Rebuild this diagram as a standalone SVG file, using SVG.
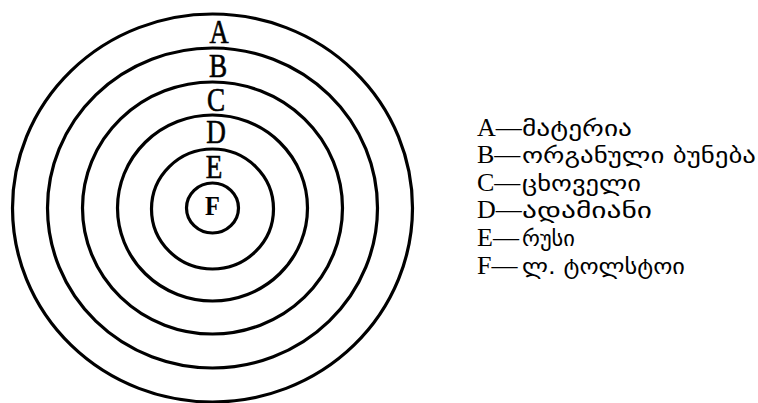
<svg xmlns="http://www.w3.org/2000/svg" width="758" height="403" viewBox="0 0 758 403">
<style>
.ring{fill:none;stroke:#000;stroke-width:3.2}
.lt{font-family:"Liberation Serif","DejaVu Serif",serif;font-size:34px;fill:#000;stroke:#000;stroke-width:0.6;text-anchor:middle}
.lf{font-family:"Liberation Serif","DejaVu Serif",serif;font-size:27px;font-weight:bold;fill:#000;text-anchor:middle}
.lg{font-family:"Liberation Serif","DejaVu Sans",serif;font-size:26px;fill:#000}
.ka{font-family:"DejaVu Sans",sans-serif;font-size:22px}
</style>
<rect width="758" height="403" fill="#fff"/>
<g id="ringA"><ellipse class="ring" cx="212.5" cy="208" rx="200" ry="194"/><text class="lt" transform="translate(219,43) scale(0.78,1)">A</text></g>
<g id="ringB"><ellipse class="ring" cx="212.5" cy="208" rx="165" ry="160"/><text class="lt" transform="translate(218,77) scale(0.8,1)">B</text></g>
<g id="ringC"><ellipse class="ring" cx="212.5" cy="208" rx="130" ry="126"/><text class="lt" transform="translate(216,111) scale(0.8,1)">C</text></g>
<g id="ringD"><ellipse class="ring" cx="212.5" cy="208" rx="95" ry="93"/><text class="lt" transform="translate(216,143) scale(0.8,1)">D</text></g>
<g id="ringE"><ellipse class="ring" cx="212.5" cy="209" rx="61" ry="60"/><text class="lt" transform="translate(214,178) scale(0.8,1)">E</text></g>
<g id="ringF"><ellipse class="ring" cx="212.5" cy="208" rx="26" ry="25"/><text class="lf" transform="translate(212.5,215) scale(0.9,1)">F</text></g>
<g id="connectors"/>
<g id="legend">
<g id="legA"><text class="lg" x="477" y="136">A—<tspan class="ka" x="522" textLength="110" lengthAdjust="spacingAndGlyphs">მატერია</tspan></text></g>
<g id="legB"><text class="lg" x="477" y="163">B—<tspan class="ka" x="522" textLength="234" lengthAdjust="spacingAndGlyphs">ორგანული ბუნება</tspan></text></g>
<g id="legC"><text class="lg" x="477" y="191">C—<tspan class="ka" x="522" textLength="119" lengthAdjust="spacingAndGlyphs">ცხოველი</tspan></text></g>
<g id="legD"><text class="lg" x="477" y="218">D—<tspan class="ka" x="522" textLength="130" lengthAdjust="spacingAndGlyphs">ადამიანი</tspan></text></g>
<g id="legE"><text class="lg" x="477" y="246">E—<tspan class="ka" x="522" textLength="53" lengthAdjust="spacingAndGlyphs">რუსი</tspan></text></g>
<g id="legF"><text class="lg" x="477" y="274">F—<tspan class="ka" x="522" textLength="163" lengthAdjust="spacingAndGlyphs">ლ. ტოლსტოი</tspan></text></g>
</g>
</svg>
